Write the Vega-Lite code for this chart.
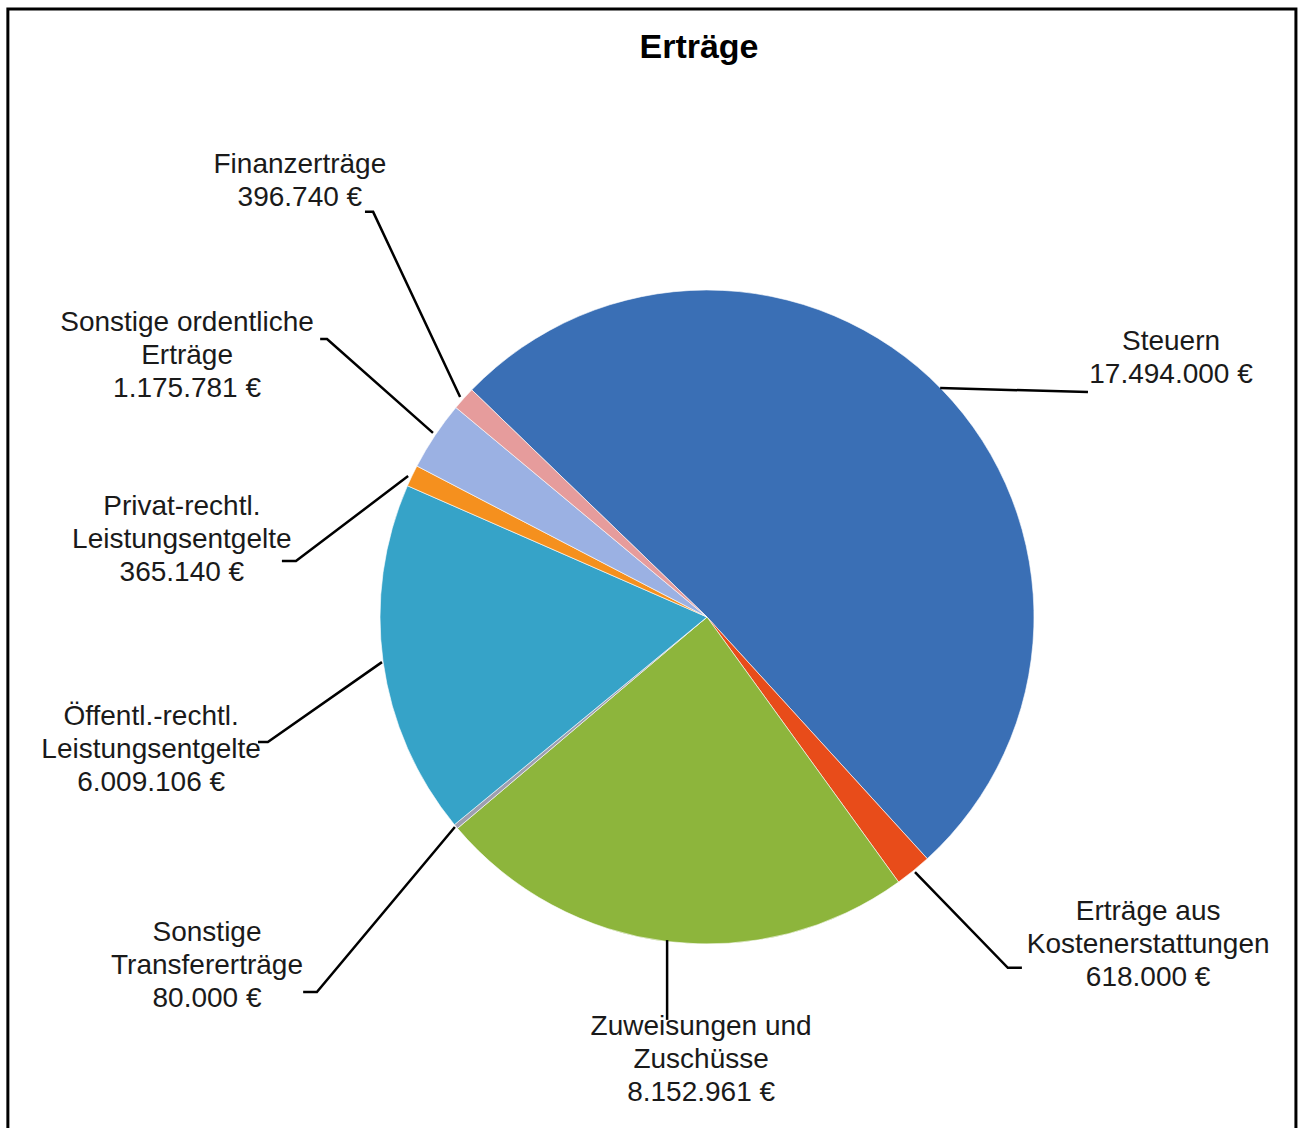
{
  "$schema": "https://vega.github.io/schema/vega-lite/v6.json",
  "width": 654,
  "height": 654,
  "autosize": {"type": "none"},
  "padding": {"left": 380, "top": 290, "right": 268, "bottom": 184},
  "background": "white",
  "config": {
    "view": {"stroke": null},
    "font": "Liberation Sans",
    "locale": {"number": {"decimal": ",", "thousands": ".", "grouping": [3], "currency": ["", " €"]}}
  },
  "title": {
    "text": "Erträge",
    "font": "Liberation Sans",
    "fontSize": 34,
    "fontWeight": "bold",
    "color": "#000000",
    "anchor": "middle",
    "frame": "group",
    "baseline": "alphabetic",
    "offset": -84,
    "dx": -8
  },
  "datasets": {
    "slices": [
      {"idx": 1, "name": "Steuern", "caption": "Steuern", "value": 17494000},
      {"idx": 2, "name": "Erträge aus Kostenerstattungen", "caption": "Erträge aus\nKostenerstattungen", "value": 618000},
      {"idx": 3, "name": "Zuweisungen und Zuschüsse", "caption": "Zuweisungen und\nZuschüsse", "value": 8152961},
      {"idx": 4, "name": "Sonstige Transfererträge", "caption": "Sonstige\nTransfererträge", "value": 80000},
      {"idx": 5, "name": "Öffentl.-rechtl. Leistungsentgelte", "caption": "Öffentl.-rechtl.\nLeistungsentgelte", "value": 6009106},
      {"idx": 6, "name": "Privat-rechtl. Leistungsentgelte", "caption": "Privat-rechtl.\nLeistungsentgelte", "value": 365140},
      {"idx": 7, "name": "Sonstige ordentliche Erträge", "caption": "Sonstige ordentliche\nErträge", "value": 1175781},
      {"idx": 8, "name": "Finanzerträge", "caption": "Finanzerträge", "value": 396740}
    ],
    "labels": [
      {"name": "Steuern", "lx": 141.9, "ly": -84.1},
      {"name": "Erträge aus Kostenerstattungen", "lx": 134.9, "ly": 90.2},
      {"name": "Zuweisungen und Zuschüsse", "lx": -1.8, "ly": 125.4},
      {"name": "Sonstige Transfererträge", "lx": -152.9, "ly": 96.6},
      {"name": "Öffentl.-rechtl. Leistungsentgelte", "lx": -170.0, "ly": 30.6},
      {"name": "Privat-rechtl. Leistungsentgelte", "lx": -160.6, "ly": -33.6},
      {"name": "Sonstige ordentliche Erträge", "lx": -159.0, "ly": -89.9},
      {"name": "Finanzerträge", "lx": -124.5, "ly": -138.2}
    ],
    "leaders": [
      {"name": "Steuern", "seq": 1, "x": 71.3, "y": -70.0},
      {"name": "Steuern", "seq": 2, "x": 116.5, "y": -68.8},
      {"name": "Erträge aus Kostenerstattungen", "seq": 1, "x": 63.6, "y": 78.0},
      {"name": "Erträge aus Kostenerstattungen", "seq": 2, "x": 92.0, "y": 107.3},
      {"name": "Erträge aus Kostenerstattungen", "seq": 3, "x": 96.3, "y": 107.3},
      {"name": "Zuweisungen und Zuschüsse", "seq": 1, "x": -12.2, "y": 98.8},
      {"name": "Zuweisungen und Zuschüsse", "seq": 2, "x": -12.2, "y": 123.2},
      {"name": "Sonstige Transfererträge", "seq": 1, "x": -77.1, "y": 64.2},
      {"name": "Sonstige Transfererträge", "seq": 2, "x": -119.3, "y": 114.7},
      {"name": "Sonstige Transfererträge", "seq": 3, "x": -123.5, "y": 114.7},
      {"name": "Öffentl.-rechtl. Leistungsentgelte", "seq": 1, "x": -99.4, "y": 13.8},
      {"name": "Öffentl.-rechtl. Leistungsentgelte", "seq": 2, "x": -134.3, "y": 38.2},
      {"name": "Öffentl.-rechtl. Leistungsentgelte", "seq": 3, "x": -137.3, "y": 38.2},
      {"name": "Privat-rechtl. Leistungsentgelte", "seq": 1, "x": -91.4, "y": -43.1},
      {"name": "Privat-rechtl. Leistungsentgelte", "seq": 2, "x": -125.7, "y": -17.1},
      {"name": "Privat-rechtl. Leistungsentgelte", "seq": 3, "x": -130.0, "y": -17.1},
      {"name": "Sonstige ordentliche Erträge", "seq": 1, "x": -83.8, "y": -56.3},
      {"name": "Sonstige ordentliche Erträge", "seq": 2, "x": -116.2, "y": -85.0},
      {"name": "Sonstige ordentliche Erträge", "seq": 3, "x": -118.3, "y": -85.0},
      {"name": "Finanzerträge", "seq": 1, "x": -75.5, "y": -67.3},
      {"name": "Finanzerträge", "seq": 2, "x": -102.1, "y": -123.9},
      {"name": "Finanzerträge", "seq": 3, "x": -104.6, "y": -123.9}
    ]
  },
  "layer": [
    {
      "data": {"name": "slices"},
      "mark": {"type": "arc", "stroke": "#ffffff", "strokeWidth": 1, "strokeOpacity": 0.6},
      "encoding": {
        "theta": {"field": "value", "type": "quantitative", "stack": true, "scale": {"range": [-0.8029, 5.4803]}},
        "order": {"field": "idx", "type": "quantitative"},
        "color": {
          "field": "name",
          "type": "nominal",
          "legend": null,
          "scale": {
            "domain": ["Steuern", "Erträge aus Kostenerstattungen", "Zuweisungen und Zuschüsse", "Sonstige Transfererträge", "Öffentl.-rechtl. Leistungsentgelte", "Privat-rechtl. Leistungsentgelte", "Sonstige ordentliche Erträge", "Finanzerträge"],
            "range": ["#3A6FB5", "#E84C1A", "#8DB53C", "#9E9EB0", "#36A3C8", "#F5901E", "#9BB1E3", "#E69C9C"]
          }
        }
      }
    },
    {
      "data": {"name": "leaders"},
      "mark": {"type": "line", "color": "#000000", "strokeWidth": 2.5},
      "encoding": {
        "x": {"field": "x", "type": "quantitative", "axis": null, "scale": {"domain": [-100, 100], "nice": false, "zero": false}},
        "y": {"field": "y", "type": "quantitative", "axis": null, "scale": {"domain": [-100, 100], "nice": false, "zero": false, "reverse": true}},
        "detail": {"field": "name"},
        "order": {"field": "seq", "type": "quantitative"}
      }
    },
    {
      "data": {"name": "labels"},
      "transform": [
        {"lookup": "name", "from": {"data": {"name": "slices"}, "key": "name", "fields": ["caption", "value"]}},
        {"calculate": "datum.caption + '\\n' + format(datum.value, ',.0f') + ' €'", "as": "text"}
      ],
      "mark": {"type": "text", "fontSize": 28, "lineHeight": 33, "lineBreak": "\n", "align": "center", "baseline": "middle", "color": "#1a1a1a"},
      "encoding": {
        "x": {"field": "lx", "type": "quantitative", "axis": null, "scale": {"domain": [-100, 100], "nice": false, "zero": false}},
        "y": {"field": "ly", "type": "quantitative", "axis": null, "scale": {"domain": [-100, 100], "nice": false, "zero": false, "reverse": true}},
        "text": {"field": "text"}
      }
    },
    {
      "data": {"values": [{}]},
      "mark": {"type": "rect", "filled": false, "stroke": "#000000", "strokeWidth": 3},
      "encoding": {
        "x": {"datum": -213.8, "type": "quantitative", "axis": null, "scale": {"domain": [-100, 100], "nice": false, "zero": false}},
        "x2": {"datum": 180.1},
        "y": {"datum": -185.9, "type": "quantitative", "axis": null, "scale": {"domain": [-100, 100], "nice": false, "zero": false, "reverse": true}},
        "y2": {"datum": 158.4}
      }
    }
  ]
}
